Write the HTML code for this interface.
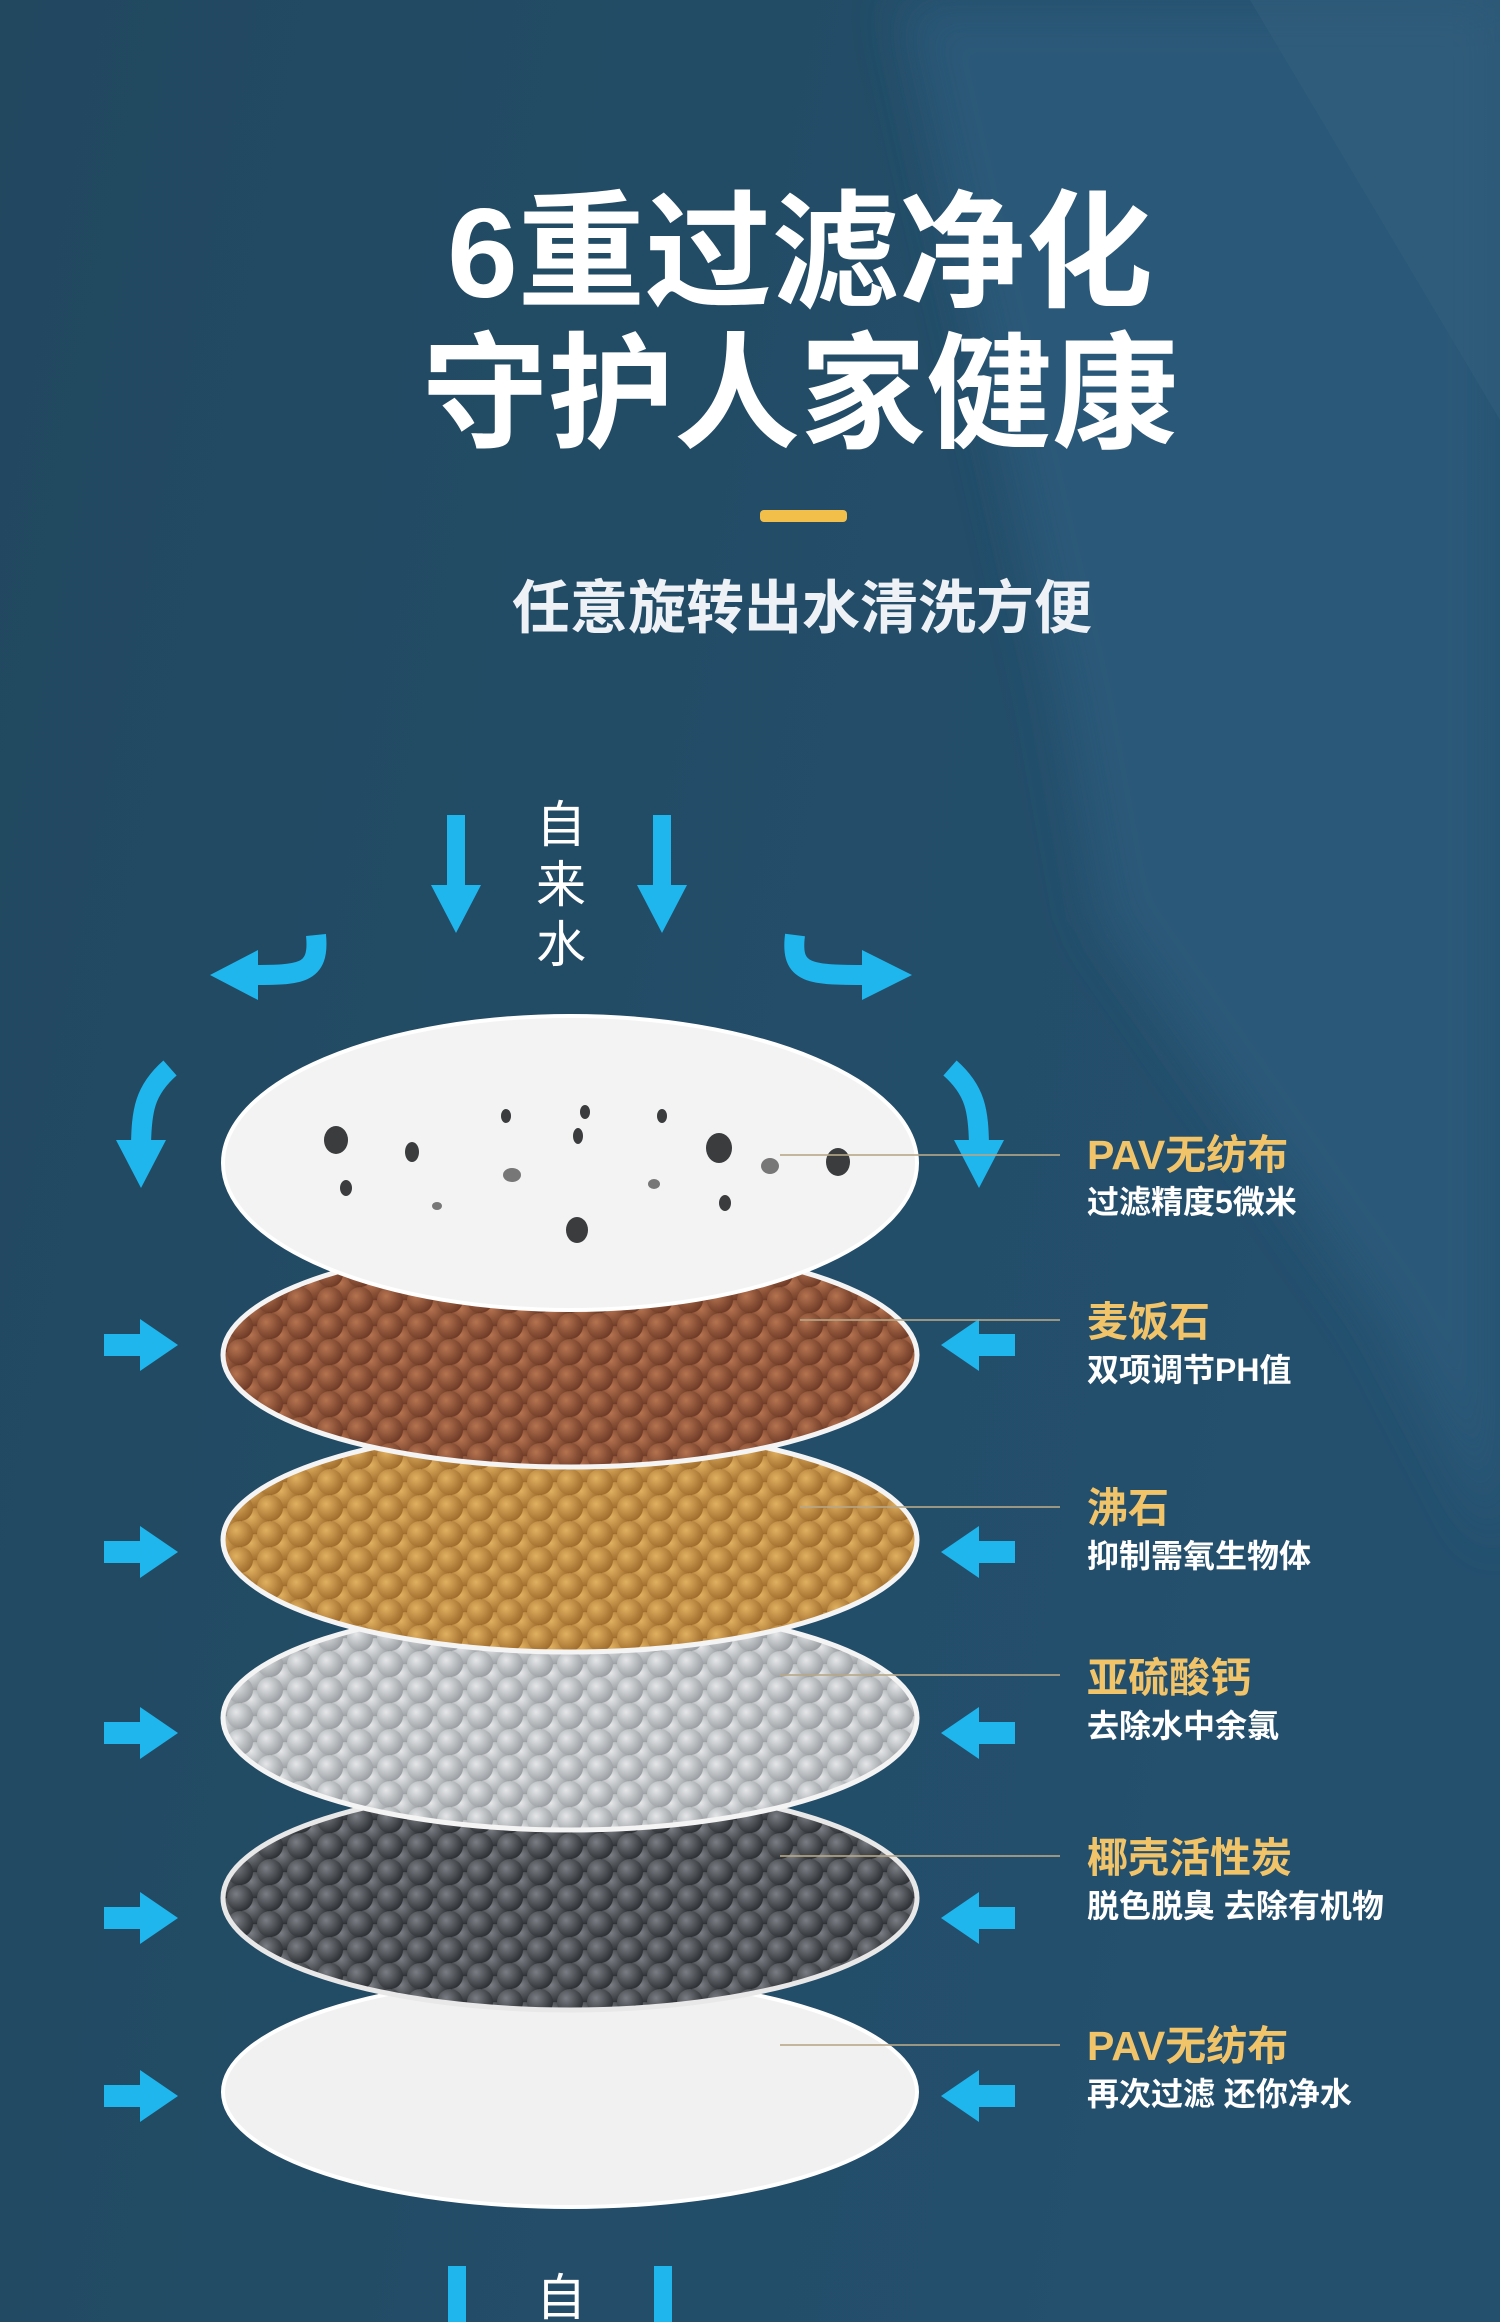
<!DOCTYPE html>
<html><head><meta charset="utf-8"><style>
html,body{margin:0;padding:0;width:1500px;height:2322px;overflow:hidden;background:#234c68}
svg{display:block}
</style></head><body>
<svg width="1500" height="2322" viewBox="0 0 1500 2322" xmlns="http://www.w3.org/2000/svg">
<defs>
<linearGradient id="bg" x1="0" y1="0" x2="1" y2="0.3">
<stop offset="0" stop-color="#21485f"/><stop offset="1" stop-color="#24506e"/>
</linearGradient>
<radialGradient id="gb" cx="0.35" cy="0.35" r="0.7"><stop offset="0" stop-color="#b57350"/><stop offset="1" stop-color="#6e3a26"/></radialGradient>
<radialGradient id="gy" cx="0.35" cy="0.35" r="0.7"><stop offset="0" stop-color="#e0b060"/><stop offset="1" stop-color="#a06c2c"/></radialGradient>
<radialGradient id="gg" cx="0.35" cy="0.35" r="0.7"><stop offset="0" stop-color="#e4e6e8"/><stop offset="1" stop-color="#9a9ea2"/></radialGradient>
<radialGradient id="gd" cx="0.35" cy="0.35" r="0.7"><stop offset="0" stop-color="#7a7e84"/><stop offset="1" stop-color="#2c3034"/></radialGradient>
<pattern id="pb" width="30" height="26" patternUnits="userSpaceOnUse"><rect width="30" height="26" fill="#5a2e1e"/><circle cx="15" cy="13" r="13" fill="url(#gb)"/><circle cx="0" cy="0" r="13" fill="url(#gb)"/><circle cx="30" cy="0" r="13" fill="url(#gb)"/><circle cx="0" cy="26" r="13" fill="url(#gb)"/><circle cx="30" cy="26" r="13" fill="url(#gb)"/></pattern>
<pattern id="py" width="30" height="26" patternUnits="userSpaceOnUse"><rect width="30" height="26" fill="#7a5222"/><circle cx="15" cy="13" r="13" fill="url(#gy)"/><circle cx="0" cy="0" r="13" fill="url(#gy)"/><circle cx="30" cy="0" r="13" fill="url(#gy)"/><circle cx="0" cy="26" r="13" fill="url(#gy)"/><circle cx="30" cy="26" r="13" fill="url(#gy)"/></pattern>
<pattern id="pg" width="30" height="26" patternUnits="userSpaceOnUse"><rect width="30" height="26" fill="#888c90"/><circle cx="15" cy="13" r="13" fill="url(#gg)"/><circle cx="0" cy="0" r="13" fill="url(#gg)"/><circle cx="30" cy="0" r="13" fill="url(#gg)"/><circle cx="0" cy="26" r="13" fill="url(#gg)"/><circle cx="30" cy="26" r="13" fill="url(#gg)"/></pattern>
<pattern id="pd" width="30" height="26" patternUnits="userSpaceOnUse"><rect width="30" height="26" fill="#1e2226"/><circle cx="15" cy="13" r="13" fill="url(#gd)"/><circle cx="0" cy="0" r="13" fill="url(#gd)"/><circle cx="30" cy="0" r="13" fill="url(#gd)"/><circle cx="0" cy="26" r="13" fill="url(#gd)"/><circle cx="30" cy="26" r="13" fill="url(#gd)"/></pattern>
<g id="ar"><rect x="0" y="-11" width="40" height="22" fill="#1fb6ee"/><polygon points="36,-26 74,0 36,26" fill="#1fb6ee"/></g>
<g id="ad"><rect x="-9" y="0" width="18" height="80" fill="#1fb6ee"/><polygon points="-25,70 25,70 0,118" fill="#1fb6ee"/></g>
<filter id="blur"><feGaussianBlur stdDeviation="25"/></filter>
</defs>
<rect width="1500" height="2322" fill="url(#bg)"/>
<polygon points="900,0 1500,0 1500,1550 1380,1320 1100,920 1060,700" fill="#2c5878" filter="url(#blur)"/>
<polygon points="1250,0 1500,0 1500,420" fill="#33607e" opacity="0.5"/>

<text x="800" y="297" text-anchor="middle" font-family="Liberation Sans,Noto Sans CJK SC,sans-serif" font-weight="bold" font-size="127" fill="#fff">6重过滤净化</text>
<text x="800" y="438" text-anchor="middle" font-family="Liberation Sans,Noto Sans CJK SC,sans-serif" font-weight="bold" font-size="126" fill="#fff">守护人家健康</text>
<rect x="760" y="510" width="87" height="12" rx="4" fill="#f2c04a"/>
<text x="802" y="628" text-anchor="middle" font-family="Liberation Sans,Noto Sans CJK SC,sans-serif" font-weight="bold" font-size="58" fill="#eef2f6">任意旋转出水清洗方便</text>

<use href="#ad" transform="translate(456,815)"/>
<use href="#ad" transform="translate(662,815)"/>
<g font-family="Liberation Sans,Noto Sans CJK SC,sans-serif" font-size="50" fill="#fff" text-anchor="middle">
<text x="561" y="842">自</text><text x="561" y="902">来</text><text x="561" y="962">水</text>
<text x="561" y="2315">自</text></g>
<path d="M316,935 C320,975 300,975 250,975" stroke="#1fb6ee" stroke-width="20" fill="none"/>
<polygon points="258,950 258,1000 210,975" fill="#1fb6ee"/>
<path d="M795,935 C790,975 810,975 870,975" stroke="#1fb6ee" stroke-width="20" fill="none"/>
<polygon points="862,950 862,1000 912,975" fill="#1fb6ee"/>
<path d="M170,1068 C145,1090 141,1110 141,1150" stroke="#1fb6ee" stroke-width="20" fill="none"/>
<polygon points="116,1140 166,1140 141,1188" fill="#1fb6ee"/>
<path d="M950,1068 C975,1090 979,1110 979,1150" stroke="#1fb6ee" stroke-width="20" fill="none"/>
<polygon points="954,1140 1004,1140 979,1188" fill="#1fb6ee"/>

<g>
<use href="#ar" transform="translate(104,1345)"/><use href="#ar" transform="translate(104,1552)"/><use href="#ar" transform="translate(104,1733)"/><use href="#ar" transform="translate(104,1918)"/><use href="#ar" transform="translate(104,2096)"/>
<use href="#ar" transform="translate(1015,1345) scale(-1,1)"/><use href="#ar" transform="translate(1015,1552) scale(-1,1)"/><use href="#ar" transform="translate(1015,1733) scale(-1,1)"/><use href="#ar" transform="translate(1015,1918) scale(-1,1)"/><use href="#ar" transform="translate(1015,2096) scale(-1,1)"/>
</g>
<rect x="448" y="2266" width="18" height="56" fill="#1fb6ee"/><rect x="654" y="2266" width="18" height="56" fill="#1fb6ee"/>

<ellipse cx="570" cy="2092" rx="347" ry="115" fill="#f1f1f1" stroke="#fff" stroke-width="4"/>
<ellipse cx="570" cy="1898" rx="347" ry="112" fill="url(#pd)" stroke="#e8e8e8" stroke-width="5"/>
<ellipse cx="570" cy="1718" rx="347" ry="112" fill="url(#pg)" stroke="#f4f4f4" stroke-width="5"/>
<ellipse cx="570" cy="1540" rx="347" ry="112" fill="url(#py)" stroke="#f4f4f4" stroke-width="5"/>
<ellipse cx="570" cy="1355" rx="347" ry="112" fill="url(#pb)" stroke="#f4f4f4" stroke-width="5"/>
<ellipse cx="570" cy="1163" rx="347" ry="147" fill="#f3f3f3" stroke="#fff" stroke-width="4"/>
<g fill="#3a3c3e">
<ellipse cx="336" cy="1140" rx="12" ry="14"/><ellipse cx="412" cy="1152" rx="7" ry="10"/><ellipse cx="719" cy="1148" rx="13" ry="15"/><ellipse cx="838" cy="1162" rx="12" ry="14"/><ellipse cx="577" cy="1230" rx="11" ry="13"/><ellipse cx="346" cy="1188" rx="6" ry="8"/><ellipse cx="725" cy="1203" rx="6" ry="8"/><ellipse cx="506" cy="1116" rx="5" ry="7"/><ellipse cx="585" cy="1112" rx="5" ry="7"/><ellipse cx="662" cy="1116" rx="5" ry="7"/><ellipse cx="578" cy="1136" rx="5" ry="8"/><ellipse cx="512" cy="1175" rx="9" ry="7" fill="#777"/><ellipse cx="770" cy="1166" rx="9" ry="8" fill="#777"/><ellipse cx="654" cy="1184" rx="6" ry="5" fill="#777"/><ellipse cx="437" cy="1206" rx="5" ry="4" fill="#777"/>
</g>

<g stroke="#b8a888" stroke-width="2" opacity="0.8">
<line x1="780" y1="1155" x2="1060" y2="1155"/><line x1="800" y1="1320" x2="1060" y2="1320"/><line x1="800" y1="1507" x2="1060" y2="1507"/><line x1="780" y1="1675" x2="1060" y2="1675"/><line x1="780" y1="1856" x2="1060" y2="1856"/><line x1="780" y1="2045" x2="1060" y2="2045"/>
</g>

<g font-family="Liberation Sans,Noto Sans CJK SC,sans-serif" font-weight="bold">
<g fill="#f1c46a" font-size="41">
<text x="1087" y="1169">PAV无纺布</text><text x="1087" y="1336">麦饭石</text><text x="1087" y="1522">沸石</text><text x="1087" y="1692">亚硫酸钙</text><text x="1087" y="1872">椰壳活性炭</text><text x="1087" y="2060">PAV无纺布</text>
</g>
<g fill="#fff" font-size="32">
<text x="1087" y="1213">过滤精度5微米</text><text x="1087" y="1381">双项调节PH值</text><text x="1087" y="1567">抑制需氧生物体</text><text x="1087" y="1737">去除水中余氯</text><text x="1087" y="1917">脱色脱臭 去除有机物</text><text x="1087" y="2105">再次过滤 还你净水</text>
</g></g>
</svg>
</body></html>
